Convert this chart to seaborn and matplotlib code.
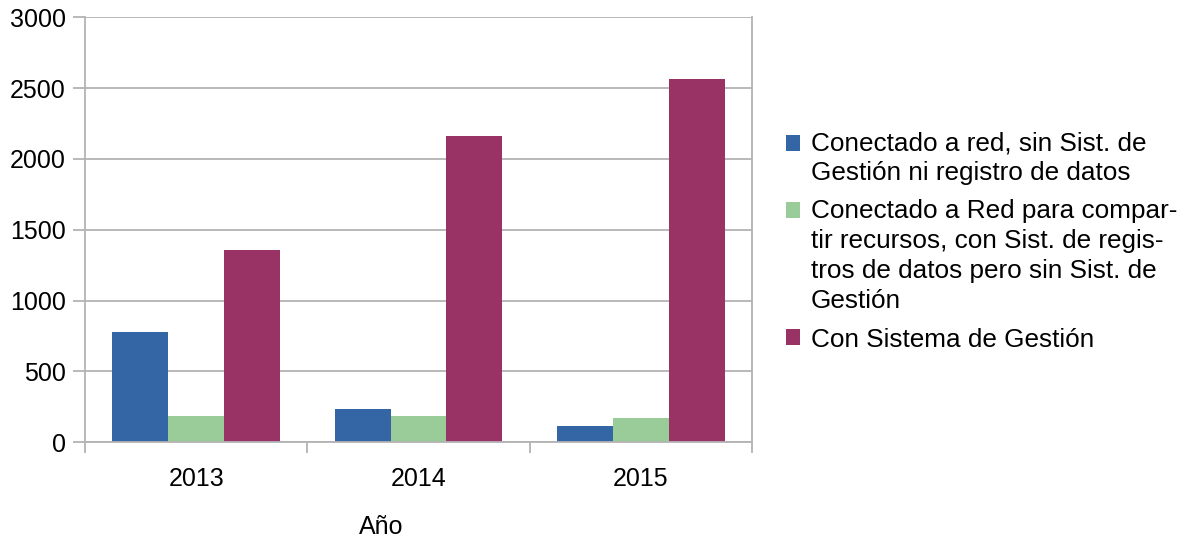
import matplotlib
matplotlib.use("Agg")
import matplotlib.pyplot as plt
from matplotlib.patches import Rectangle
from matplotlib.legend_handler import HandlerPatch
import seaborn as sns
import pandas as pd

years = ["2013", "2014", "2015"]
series_names = [
    "Conectado a red, sin Sist. de\nGestión ni registro de datos",
    "Conectado a Red para compar-\ntir recursos, con Sist. de regis-\ntros de datos pero sin Sist. de\nGestión",
    "Con Sistema de Gestión",
]
sin_sistema = [780, 235, 115]
registro_datos = [187, 188, 172]
con_sistema = [1358, 2165, 2566]
y_ticks = [0, 500, 1000, 1500, 2000, 2500, 3000]
colors = ["#3465a4", "#99cc99", "#993366"]

rows = []
for name, vals in zip(series_names, [sin_sistema, registro_datos, con_sistema]):
    for yr, v in zip(years, vals):
        rows.append({"Año": yr, "Serie": name, "Valor": v})
df = pd.DataFrame(rows)

sns.set_theme(style="white")
plt.rcParams["font.family"] = ["Liberation Sans", "DejaVu Sans"]
plt.rcParams["text.color"] = "black"
plt.rcParams["axes.labelcolor"] = "black"
plt.rcParams["xtick.labelcolor"] = "black"
plt.rcParams["ytick.labelcolor"] = "black"

fig = plt.figure(figsize=(11.87, 5.37), dpi=100)
ax = fig.add_axes([85 / 1187, 1 - 442.3 / 537, (752 - 85) / 1187, (442.3 - 17.3) / 537])

sns.barplot(data=df, x="Año", y="Valor", hue="Serie", hue_order=series_names,
            palette=colors, width=0.755, gap=0, saturation=1, ax=ax,
            edgecolor="none", linewidth=0)

grid_color = "#b3b3b3"
ax.set_ylim(0, 3000)
ax.set_xlim(-0.5, 2.5)
ax.set_yticks(y_ticks)
ax.set_yticklabels([str(t) for t in y_ticks])
ax.yaxis.grid(True, color=grid_color, linewidth=1.3)
ax.set_axisbelow(True)
ax.set_xticks([-0.5, 0.5, 1.5, 2.5], minor=True)
ax.tick_params(axis="x", which="minor", length=8, width=1.3, color=grid_color, direction="out", bottom=True)
ax.tick_params(axis="x", which="major", length=0, pad=18, labelsize=18, labelcolor="black")
ax.tick_params(axis="y", which="major", length=9, width=1.3, color=grid_color, direction="out", pad=5,
               labelsize=18, left=True, labelcolor="black")
for s in ax.spines.values():
    s.set_color(grid_color)
    s.set_linewidth(1.3)
ax.spines["top"].set_visible(False)

ax.set_ylabel("")
ax.set_xlabel("Año", fontsize=18, color="black")
ax.xaxis.set_label_coords((381 - 85) / 667, -(515 - 442.3) / 425)

LEG_FS = 18.8
LINE_SP = 1.32
line_pts = 30.8 * 72 / 100  # distance between text lines, in points


def make_handler(n_lines):
    shift = (n_lines - 1) / 2 * line_pts

    def patch_func(legend, orig_handle, xdescent, ydescent, width, height, fontsize):
        return Rectangle((-xdescent, -ydescent + shift), width, height)

    return HandlerPatch(patch_func=patch_func)


handles, labels = ax.get_legend_handles_labels()
hmap = {h: make_handler(lab.count("\n") + 1) for h, lab in zip(handles, labels)}
leg = ax.legend(handles, labels, loc="upper left", bbox_to_anchor=(786 / 1187, 1 - 131 / 537),
                bbox_transform=fig.transFigure, frameon=False, fontsize=LEG_FS,
                handlelength=0.55, handleheight=0.55, handletextpad=0.4, labelspacing=0.54,
                borderaxespad=0, borderpad=0, handler_map=hmap)
for t in leg.get_texts():
    t.set_color("black")
    t.set_linespacing(LINE_SP)

fig.savefig("out.png", dpi=100)
